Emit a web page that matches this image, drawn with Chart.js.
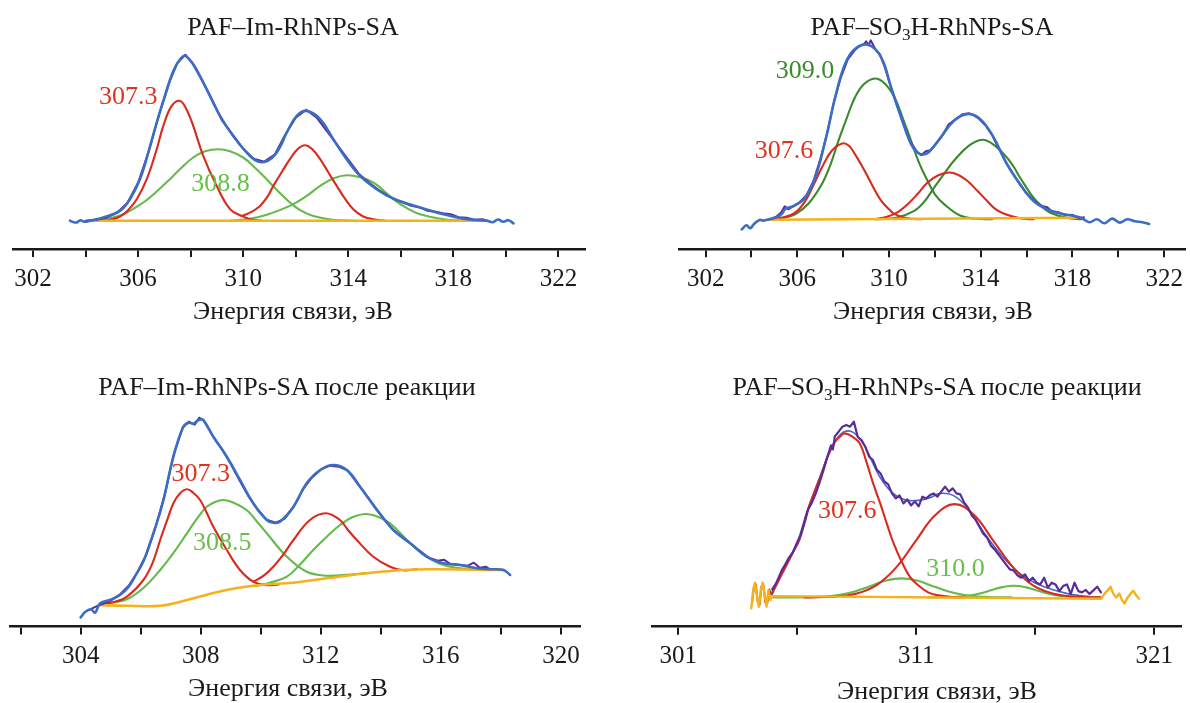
<!DOCTYPE html>
<html><head><meta charset="utf-8">
<script src="https://cdn.jsdelivr.net/npm/chart.js@4.4.1/dist/chart.umd.min.js"></script>
<style>
html,body{margin:0;padding:0;background:#fff;}
#wrap{position:relative;width:1190px;height:703px;overflow:hidden;background:#fff;}
canvas{position:absolute;}
.t{position:absolute;transform:translate(-50%,-50%);white-space:nowrap;font-family:"Liberation Serif","Times New Roman",serif;font-size:26px;color:#1a1a1a;line-height:1;z-index:2;}
.t sub{font-size:0.66em;vertical-align:-0.32em;line-height:0;}
</style></head><body>
<div id="wrap">
<canvas id="c1" width="595" height="330" style="left:0px;top:0px"></canvas>
<canvas id="c2" width="595" height="330" style="left:595px;top:0px"></canvas>
<canvas id="c3" width="595" height="348" style="left:0px;top:355px"></canvas>
<canvas id="c4" width="595" height="348" style="left:595px;top:355px"></canvas>
<div class="t" style="left:293px;top:27px">PAF–Im-RhNPs-SA</div>
<div class="t" style="left:932px;top:27px">PAF–SO<sub>3</sub>H-RhNPs-SA</div>
<div class="t" style="left:287px;top:387px">PAF–Im-RhNPs-SA после реакции</div>
<div class="t" style="left:937px;top:387px">PAF–SO<sub>3</sub>H-RhNPs-SA после реакции</div>
<div class="t" style="left:293px;top:311px">Энергия связи, эВ</div>
<div class="t" style="left:933px;top:311px">Энергия связи, эВ</div>
<div class="t" style="left:288px;top:688px">Энергия связи, эВ</div>
<div class="t" style="left:937px;top:691px">Энергия связи, эВ</div>
</div>
<script>
// ---------- tick values / labels ----------
const tlTicks = [302,304,306,308,310,312,314,316,318,320,322];
const tlTickLabels = ['302','','306','','310','','314','','318','','322'];
const trTicks = [302,304,306,308,310,312,314,316,318,320,322];
const trTickLabels = ['302','','306','','310','','314','','318','','322'];
const blTicks = [302,304,306,308,310,312,314,316,318,320];
const blTickLabels = ['','304','','308','','312','','316','','320'];
const brTicks = [301,306,311,316,321];
const brTickLabels = ['301','','311','','321'];

// ---------- panel 1: PAF–Im-RhNPs-SA ----------
const tlEnvelope = [[303.41,0],[303.55,-1.5],[303.67,-1.7],[303.8,0.5],[303.95,-1],[304.17,0],[304.68,3.2],[305.31,9.8],[305.69,21.5],[306.07,41.5],[306.39,68.2],[306.71,98.2],[307.02,124.8],[307.34,149.8],[307.6,161.5],[307.79,164.8],[308.1,156.5],[308.35,145],[308.61,131.5],[309.12,104.8],[309.62,84.8],[310.13,68.2],[310.45,60.5],[310.7,58.5],[310.95,60],[311.2,65.5],[311.42,74.5],[311.66,88.2],[312.04,104.8],[312.42,109.8],[312.93,101.5],[313.43,81.5],[313.94,61.5],[314.45,44.8],[315.08,31.5],[315.71,22.2],[316.73,13.2],[317.62,6.5],[318.51,1.5],[319.27,0],[319.5,-1.5],[319.7,1.2],[319.9,-1],[320.1,0.5],[320.29,-2.7]];
const tlRaw = [[304.0,0],[304.4,1],[304.8,3],[305.2,8],[305.6,18],[306.0,38],[306.4,69],[306.8,106],[307.2,139],[307.5,158],[307.8,166],[308.1,156],[308.4,142],[308.8,122],[309.2,100],[309.6,86],[310.0,72],[310.4,62],[310.8,59],[311.2,66],[311.6,86],[312.0,103],[312.4,111],[312.8,103],[313.2,89],[313.6,75],[314.0,61],[314.4,47],[314.8,38],[315.2,30],[315.5,25],[315.8,21],[316.1,18],[316.4,15],[316.7,13.5],[317.0,10],[317.3,9],[317.6,7.5],[317.9,6.5],[318.2,3.5],[318.5,3],[318.8,1],[319.1,1.5],[319.3,0]];
const tlRed1 = [[304.5,0],[304.93,1],[305.3,4],[305.6,10],[305.95,21.5],[306.33,41.5],[306.71,71.5],[306.96,94.8],[307.28,114.8],[307.6,119.8],[307.85,111],[308.1,94.8],[308.48,64.8],[308.99,34.8],[309.5,11.5],[309.94,4.8],[310.3,1.2],[310.7,0]];
const tlRed2 = [[309.94,4.8],[310.3,8.5],[310.64,14.8],[310.9,23],[311.15,34.8],[311.5,50],[311.78,61.5],[312.05,71],[312.35,75.5],[312.65,71],[312.93,61.5],[313.25,48],[313.56,34.8],[313.9,21],[314.19,11.5],[314.55,4.5],[314.95,1.5],[315.4,0]];
const tlGreen1 = [[304.1,0],[304.68,1.5],[305.4,6],[306.2,18.2],[306.7,29],[307.21,41.5],[307.65,53],[308.1,63.2],[308.55,69.5],[309.05,71.5],[309.5,69.5],[310.0,63.2],[310.45,53],[310.89,41.5],[311.35,29],[311.78,18.2],[312.2,10],[312.67,4.8],[313.4,1],[314.2,0]];
const tlGreen2 = [[309.5,0],[310.13,1.5],[310.9,6],[311.78,14.8],[312.4,24.5],[312.93,34.8],[313.45,42.5],[313.94,45.5],[314.45,43.5],[314.95,38.2],[315.35,30],[315.71,21.5],[316.2,13],[316.73,6.5],[317.62,1.5],[318.5,0]];
const tlBackground = [[304.1,0],[319.1,0]];

// ---------- panel 2: PAF–SO3H-RhNPs-SA ----------
const trEnvelope = [[303.58,-10],[303.78,-6],[303.94,-9],[304.11,-4.7],[304.35,-0.7],[304.52,-1.3],[304.77,0],[305.09,2],[305.3,5],[305.5,11],[305.63,11.8],[305.9,14],[306.35,21.8],[306.78,41.8],[307.22,78.5],[307.65,121.8],[308.08,155.2],[308.51,170.2],[309.09,174.5],[309.66,161.8],[310.09,131.8],[310.53,101.8],[310.96,75.2],[311.25,66.5],[311.5,64.8],[311.75,67.5],[312.25,81.8],[312.83,98.5],[313.41,105.2],[313.98,100.2],[314.56,81.8],[315.14,55.2],[315.71,35.2],[316.29,18.5],[316.87,10.2],[317.45,6],[318.02,3.5],[318.41,1],[318.74,-3],[319.07,0],[319.4,-4],[319.73,0.7],[320.06,-3.3],[320.39,0],[320.72,-2],[321.05,-3],[321.34,-4.7]];
const trRaw = [[304.8,0],[305.1,3],[305.3,7],[305.45,13],[305.6,10],[305.8,13],[306.1,17],[306.4,24],[306.7,38],[307.0,60],[307.3,86],[307.6,118],[307.9,142],[308.2,160],[308.5,169],[308.7,173],[308.9,175],[309.0,178],[309.1,174],[309.2,179],[309.4,170],[309.6,165],[309.8,153],[310.0,138],[310.3,117],[310.6,97],[310.9,79],[311.2,68],[311.4,64],[311.6,68],[311.8,69],[312.0,74],[312.3,83],[312.6,95],[312.9,100],[313.2,105],[313.5,106],[313.7,104],[313.9,101],[314.2,94],[314.5,84],[314.8,70],[315.1,57],[315.4,46],[315.7,35],[316.0,26],[316.3,19],[316.5,16],[316.7,13],[316.9,12],[317.1,8],[317.4,7],[317.7,4],[318.0,4.5],[318.3,1],[318.5,2]];
const trRed1 = [[304.77,0],[305.4,2],[305.92,7],[306.35,18.5],[306.72,35],[307.07,51.8],[307.5,68.5],[307.96,75.8],[308.25,73.5],[308.51,65.2],[308.8,54],[309.09,41.8],[309.38,29],[309.66,18.5],[310.0,10],[310.24,5.2],[310.8,1],[311.4,0]];
const trGreen1 = [[304.8,0],[305.4,1.5],[305.92,5.2],[306.5,16],[307.07,35.2],[307.45,55],[307.79,78.5],[308.15,101],[308.51,121.8],[308.9,135],[309.38,140.8],[309.8,136],[310.24,121.8],[310.6,101],[310.96,78.5],[311.3,57],[311.68,38.5],[312.0,25],[312.4,15.2],[313.12,3.5],[313.8,0.5],[314.5,0]];
const trRed2 = [[309.4,0],[309.95,2.8],[310.4,7.5],[310.82,15.2],[311.25,25.5],[311.68,36.8],[312.15,44],[312.62,46.8],[313.0,44.5],[313.41,38.5],[313.85,28.5],[314.27,18.5],[314.6,11],[314.99,5.8],[315.71,1],[316.3,0]];
const trGreen2 = [[309.5,0],[310.3,1.5],[311.1,8.5],[311.55,18],[311.97,31.8],[312.4,45.5],[312.83,58.5],[313.45,73],[314.06,79.5],[314.6,74],[315.14,61.8],[315.45,52],[315.71,41.8],[316.0,31.5],[316.29,21.8],[316.65,13],[317.01,6.8],[317.73,1.5],[318.4,0]];
const trBackground = [[304.76,-0.5],[318.41,1.5]];

// ---------- panel 3: PAF–Im-RhNPs-SA после реакции ----------
const blEnvelope = [[304.0,-10.7],[304.16,-5],[304.35,-2.7],[304.48,-6],[304.65,3.4],[305.0,7],[305.31,11.7],[305.6,20],[305.87,33.4],[306.1,46],[306.31,63.4],[306.55,85],[306.76,106.7],[307.09,150],[307.42,180],[307.6,184],[307.75,183],[307.95,187],[308.09,186.7],[308.42,170],[308.87,150],[309.31,126.7],[309.75,103.4],[310.2,86.7],[310.42,84],[310.64,85],[311.09,100],[311.53,123.4],[311.98,136.7],[312.42,141.7],[312.87,136.7],[313.31,120],[313.87,96.7],[314.42,76.7],[314.98,63.4],[315.53,50],[316.09,43.4],[316.64,41.7],[317.2,38.4],[317.7,37.5],[318.09,36.7],[318.31,31.7]];
const blRaw = [[304.3,-3],[304.65,2],[305.0,6],[305.3,12],[305.6,21],[305.9,35],[306.2,53],[306.5,80],[306.8,112],[307.1,152],[307.4,179],[307.6,185],[307.8,182],[307.95,189],[308.1,186],[308.4,171],[308.7,158],[309.0,143],[309.3,126],[309.6,110],[309.9,97],[310.2,87],[310.5,84],[310.8,88],[311.1,100],[311.4,117],[311.7,129],[312.0,137],[312.3,141],[312.6,140],[312.9,136],[313.2,124],[313.5,112],[313.8,100],[314.1,88],[314.4,77],[314.7,70],[315.0,63],[315.3,56],[315.6,49],[315.9,46],[316.1,47],[316.3,43],[316.6,42],[316.9,41],[317.1,44],[317.3,39],[317.5,40],[317.6,38]];
const blRed1 = [[304.65,2.7],[305.1,4.5],[305.54,10],[306.09,26.7],[306.4,44],[306.65,66.7],[306.9,88],[307.09,103.4],[307.3,113],[307.54,117.4],[307.75,114],[307.98,106.7],[308.2,94],[308.42,80],[308.87,56.7],[309.31,36.7],[309.75,25],[310.2,21.5],[310.6,22.2]];
const blGreen1 = [[304.65,2.7],[305.1,4.5],[305.54,7.4],[306.1,19],[306.65,36.7],[307.1,54],[307.54,73.4],[307.9,89],[308.2,100],[308.5,105],[308.76,106.7],[309.1,104],[309.53,96.7],[309.85,86],[310.2,73.4],[310.87,50],[311.53,35],[312.2,31],[312.84,31.8],[313.52,33.6]];
const blRed2 = [[309.75,25],[310.1,31],[310.42,40],[310.75,52],[311.09,66.7],[311.64,86.7],[312.17,93.4],[312.64,86.7],[312.9,77],[313.2,66.7],[313.75,50],[314.31,40],[314.75,36.4],[315.2,37.5]];
const blGreen2 = [[309.79,20.5],[310.3,24],[310.87,30],[311.3,42],[311.75,56.7],[312.2,70],[312.64,81.7],[313.05,89.5],[313.48,92.7],[313.9,90],[314.31,83.4],[314.87,66.7],[315.2,57.5],[315.53,50],[316.09,41.7],[316.87,37.8],[317.6,37.4]];
const blBackground = [[304.65,1.5],[305.5,1.0],[306.64,0.9],[307.54,6.7],[308.87,16.7],[309.98,21.7],[311.08,24],[312.2,28.4],[313.31,32.7],[314.41,36],[315.53,37.4],[318.08,36.7]];

// ---------- panel 4: PAF–SO3H-RhNPs-SA после реакции ----------
const brRaw = [[304.95,8],[305.11,14],[305.35,27],[305.5,33],[305.66,40],[305.82,45],[305.98,54],[306.14,62],[306.3,74],[306.46,88],[306.62,95],[306.78,104],[306.94,115],[307.1,127],[307.26,140],[307.42,152],[307.5,148],[307.58,161],[307.74,165.7],[307.9,170.7],[308.06,172.3],[308.22,170.7],[308.38,175.7],[308.54,160.7],[308.7,157.3],[308.86,150.7],[309.02,140.7],[309.18,137.3],[309.34,128],[309.5,124],[309.66,116],[309.82,113],[309.98,104],[310.14,99],[310.3,102],[310.46,94],[310.62,98],[310.78,92],[310.94,96],[311.1,91],[311.26,100.7],[311.42,99],[311.58,102.3],[311.73,104],[311.89,100.7],[312.05,105.7],[312.21,110.7],[312.37,105.7],[312.53,109],[312.69,104],[312.85,103],[313.01,95],[313.17,90],[313.33,82],[313.49,78],[313.65,71],[313.81,64],[313.97,60],[314.13,52],[314.29,48],[314.45,43],[314.61,38],[314.77,33],[314.93,28],[315.09,27],[315.25,22],[315.41,19.7],[315.57,23],[315.73,16.3],[315.89,19.7],[316.05,14.7],[316.21,13],[316.37,19.7],[316.53,9.7],[316.69,14.7],[316.85,13],[317.01,6.3],[317.17,11.3],[317.33,13],[317.49,3.5],[317.65,14.7],[317.81,6.3],[317.96,5],[318.12,7.5],[318.28,3.5],[318.44,7],[318.6,10.7],[318.76,5]];
const brEnvelope = [[304.95,3],[305.5,32],[306.0,55],[306.4,85],[306.96,121],[307.38,147],[307.7,160],[308.0,166],[308.35,165],[308.77,154],[309.47,120.6],[310.03,104],[310.59,97.3],[311.16,97.3],[311.6,100],[312.0,104],[312.55,102],[313.11,90.6],[313.67,70.6],[314.51,44],[315.35,24],[316.19,12.3],[317.31,4],[318.2,1],[318.76,-1]];
const brRed1Tail = [[304.1,-6],[304.18,10],[304.26,13],[304.34,-4],[304.42,-7],[304.5,11],[304.58,12],[304.66,-5],[304.74,-6],[304.82,8],[304.9,3],[304.95,5]];
const brRed1 = [[304.95,5],[305.2,16],[305.5,30],[305.8,44],[306.1,58],[306.4,84],[306.7,104],[307.0,122],[307.3,142],[307.6,156],[307.85,162],[308.0,164],[308.3,161],[308.63,154],[308.9,136],[309.19,114],[309.5,93],[309.76,74],[310.05,54],[310.39,35.6],[310.75,20],[311.16,10.6],[311.5,5],[311.86,2.3],[312.5,0.3],[313.0,0]];
const brRed2 = [[306.3,0],[306.9,0.2],[307.72,1.0],[308.54,4.1],[309.35,12.6],[310.17,30.3],[310.98,56.6],[311.8,82.3],[312.61,93.3],[313.43,82.3],[314.24,56.6],[315.06,30.3],[315.87,12.6],[316.69,4.1],[317.5,1.0],[318.32,0.2],[318.76,0]];
const brGreen1 = [[305.0,0],[306.51,0.2],[307.16,0.8],[307.8,2.6],[308.45,6.2],[309.09,11.5],[309.74,16.8],[310.38,19],[311.03,16.8],[311.67,11.5],[312.32,6.2],[312.96,2.6],[313.61,0.8],[314.25,0.2],[315.0,0]];
const brGreen2 = [[311.5,0],[312.24,0.1],[312.72,0.5],[313.19,1.6],[313.67,3.8],[314.14,7.1],[314.62,10.3],[315.09,11.7],[315.57,10.3],[316.04,7.1],[316.52,3.8],[316.99,1.6],[317.47,0.5],[317.94,0.1],[318.7,0]];
const brBackground = [[304.07,-11],[304.15,7.3],[304.23,14.7],[304.31,0.7],[304.39,-9.3],[304.47,7.3],[304.55,14.7],[304.63,4],[304.71,-9.3],[304.79,7.3],[304.87,-2.7],[304.95,1.3],[318.76,-1.3],[318.92,4],[319.08,8],[319.16,10.7],[319.27,4],[319.4,0],[319.53,4],[319.64,-2.7],[319.75,-6],[319.88,0],[320.01,4],[320.12,6.7],[320.23,2.3],[320.36,-1.3]];

// ---------- peak annotations ----------
const tlNotes = [['307.3',305.63,124,'red'],['308.8',309.14,36.3,'greenL']];
const trNotes = [['309.0',306.33,147.7,'greenD'],['307.6',305.42,67.7,'red']];
const blNotes = [['307.3',308.0,132.5,'red'],['308.5',308.72,64,'greenL']];
const brNotes = [['307.6',308.1,86.5,'red'],['310.0',312.65,28,'greenL']];

// ---------- styles ----------
const COL = {blue:'#3b6ec3', purple:'#5a2b9b', red:'#d92a1e', greenL:'#64ba4a', greenD:'#3a8a2c', orange:'#f4b21b'};
const TXT = {red:'#e0331f', greenL:'#67bf4a', greenD:'#3b8b2d'};
const FONT = '"Liberation Serif","Times New Roman",serif';

const notePlugin = {
  id:'notes',
  afterDatasetsDraw(chart, args, opts){
    const ctx = chart.ctx, xs = chart.scales.x, ys = chart.scales.y;
    ctx.save();
    ctx.font = '26px ' + FONT;
    ctx.textAlign = 'center';
    ctx.textBaseline = 'middle';
    (opts.items||[]).forEach(n=>{
      ctx.fillStyle = TXT[n[3]];
      ctx.fillText(n[0], xs.getPixelForValue(n[1]), ys.getPixelForValue(n[2]));
    });
    ctx.restore();
  }
};

function makeChart(id, p){
  const canvas = document.getElementById(id);
  const datasets = p.series.map(s=>({
    data: s[0].map(q=>({x:q[0], y:q[1]})),
    borderColor: COL[s[1]], borderWidth: s[2], pointRadius:0, fill:false,
    tension: s[3] ? 0.4 : 0,
    borderJoinStyle:'round', borderCapStyle:'round'
  }));
  const chart = new Chart(canvas, {
    type:'line',
    data:{datasets},
    options:{
      responsive:false, animation:false, devicePixelRatio:1,
      layout:{padding:{left:p.want.left, right:canvas.width - p.want.right, top:0, bottom:30}},
      plugins:{legend:{display:false}, tooltip:{enabled:false}, title:{display:false}, notes:{items:p.notes}},
      scales:{
        x:{type:'linear', min:p.xmin, max:p.xmax,
          afterBuildTicks: sc => { sc.ticks = p.ticks.map(v=>({value:v})); },
          ticks:{autoSkip:false, maxRotation:0, includeBounds:false, padding:7, color:'#1a1a1a',
                 font:{family:FONT, size:25}, callback:(v,i)=>p.labels[i]},
          grid:{display:true, drawOnChartArea:false, drawTicks:true, tickLength:8, color:'#1a1a1a', lineWidth:2},
          border:{display:true, color:'#1a1a1a', width:2.5}
        },
        y:{type:'linear', display:false, min:-p.off, max:200}
      }
    },
    plugins:[notePlugin]
  });
  let ca = chart.chartArea;
  const pad = chart.options.layout.padding;
  pad.left += p.want.left - ca.left;
  pad.right += ca.right - p.want.right;
  pad.bottom += ca.bottom - p.want.bottom;
  chart.update('none');
  ca = chart.chartArea;
  const H = ca.bottom - ca.top;
  chart.options.scales.y.min = -p.off;
  chart.options.scales.y.max = H - p.off;
  chart.update('none');
  return chart;
}

makeChart('c1', {
  xmin:301.24, xmax:323.01, ticks:tlTicks, labels:tlTickLabels, off:28.3,
  want:{left:13, right:585, bottom:249},
  notes:tlNotes,
  series:[[tlEnvelope,'blue',2.6,true],[tlRaw,'purple',2,false],[tlBackground,'orange',2.6,false],
          [tlRed1,'red',2.1,true],[tlRed2,'red',2.1,true],[tlGreen1,'greenL',2.1,true],[tlGreen2,'greenL',2.1,true]]
});
makeChart('c2', {
  xmin:300.86, xmax:322.9, ticks:trTicks, labels:trTickLabels, off:30,
  want:{left:84.5, right:595, bottom:249.3},
  notes:trNotes,
  series:[[trEnvelope,'blue',2.6,true],[trRaw,'purple',2,false],[trBackground,'orange',2.6,false],
          [trRed1,'red',2.1,true],[trRed2,'red',2.1,true],[trGreen1,'greenD',2.1,true],[trGreen2,'greenD',2.1,true]]
});
makeChart('c3', {
  xmin:301.67, xmax:320.62, ticks:blTicks, labels:blTickLabels, off:19.8,
  want:{left:10.7, right:579.5, bottom:271.5},
  notes:blNotes,
  series:[[blEnvelope,'blue',2.6,true],[blRaw,'purple',2,false],[blBackground,'orange',2.6,true],
          [blRed1,'red',2.1,true],[blRed2,'red',2.1,true],[blGreen1,'greenL',2.1,true],[blGreen2,'greenL',2.1,true]]
});
makeChart('c4', {
  xmin:299.9, xmax:322.1, ticks:brTicks, labels:brTickLabels, off:29.3,
  want:{left:57, right:585.5, bottom:271.7},
  notes:brNotes,
  series:[[brBackground,'orange',2.4,false],[brRed1Tail,'red',2,false],[brRaw,'purple',2.2,false],[brRed1,'red',2.1,true],[brRed2,'red',2.1,true],
          [brGreen1,'greenL',2.1,true],[brGreen2,'greenL',2.1,true],[brEnvelope,'blue',1.6,true]]
});
</script>
</body></html>
